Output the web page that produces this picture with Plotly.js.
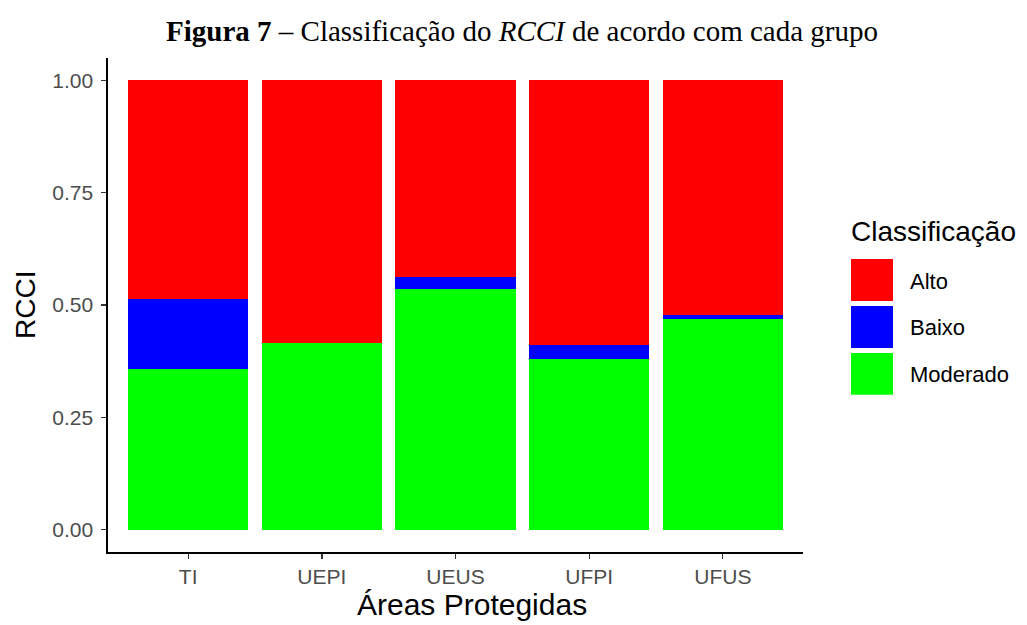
<!DOCTYPE html>
<html>
<head>
<meta charset="utf-8">
<script src="https://cdn.plot.ly/plotly-3.0.1.min.js"></script>
<style>html,body{margin:0;padding:0;background:#fff;}#chart{width:1027px;height:625px;}</style>
</head>
<body>
<div id="chart"></div>
<script>
const categories = ["TI", "UEPI", "UEUS", "UFPI", "UFUS"];
const moderado = [0.357, 0.415, 0.535, 0.379, 0.468];
const baixo = [0.156, 0.000, 0.027, 0.031, 0.009];
const alto = [0.487, 0.585, 0.438, 0.590, 0.523];
const seriesNames = ["Moderado", "Baixo", "Alto"];
const seriesColors = ["#00FF00", "#0000FF", "#FF0000"];
const yTicks = [0, 0.25, 0.5, 0.75, 1.0];
const yTickLabels = ["0.00", "0.25", "0.50", "0.75", "1.00"];
const legendOrder = ["Alto", "Baixo", "Moderado"];
const legendColors = ["#FF0000", "#0000FF", "#00FF00"];

const seriesValues = [moderado, baixo, alto];
const traces = seriesNames.map((n, i) => ({
  type: "bar", name: n, x: categories, y: seriesValues[i],
  marker: {color: seriesColors[i], line: {width: 0}},
  showlegend: false, hoverinfo: "x+y+name"
}));

const PL = 108, PR = 803, PT = 57.5, PB = 552.5;
const px = v => (v - PL) / (PR - PL);
const py = v => (PB - v) / (PB - PT);
const sans = "Liberation Sans, Arial";

const shapes = [];
const annotations = [];
// custom legend (ggplot style)
const keyTop = [259, 306, 353];
legendOrder.forEach((n, i) => {
  shapes.push({type: "rect", xref: "paper", yref: "paper",
    x0: px(851), x1: px(893), y0: py(keyTop[i] + 42), y1: py(keyTop[i]),
    fillcolor: legendColors[i], line: {width: 0}});
  annotations.push({xref: "paper", yref: "paper", x: px(908),
    y: py(keyTop[i] + 22), xanchor: "left", yanchor: "middle",
    text: n, showarrow: false, font: {family: sans, size: 22, color: "#000"}});
});
annotations.push({xref: "paper", yref: "paper", x: px(849), y: py(231),
  xanchor: "left", yanchor: "middle", text: "Classificação", showarrow: false,
  font: {family: sans, size: 28, color: "#000"}});
// axis titles
annotations.push({xref: "paper", yref: "paper", x: px(472), y: py(605),
  xanchor: "center", yanchor: "middle", text: "Áreas Protegidas", showarrow: false,
  font: {family: sans, size: 30, color: "#000"}});
annotations.push({xref: "paper", yref: "paper", x: px(25), y: py(305),
  xanchor: "center", yanchor: "middle", text: "RCCI", textangle: -90, showarrow: false,
  font: {family: sans, size: 28, color: "#000"}});

const layout = {
  width: 1027, height: 625,
  margin: {l: PL, r: 1027 - PR, t: PT, b: 625 - PB, pad: 0},
  paper_bgcolor: "#fff", plot_bgcolor: "#fff",
  barmode: "stack", bargap: 0.1,
  showlegend: false,
  title: {text: "<b>Figura 7</b> – Classificação do <i>RCCI</i> de acordo com cada grupo",
    font: {family: "Liberation Serif, Times New Roman", size: 29, color: "#000"},
    x: 522 / 1027, xanchor: "center", xref: "container", y: 1 - 31 / 625, yanchor: "middle"},
  xaxis: {
    range: [-0.6, 4.6], showline: true, linecolor: "#000", linewidth: 1.6,
    ticks: "outside", ticklen: 5, tickwidth: 1.3, tickcolor: "#333",
    tickfont: {family: sans, size: 21, color: "#4D4D4D"},
    showgrid: false, zeroline: false
  },
  yaxis: {
    range: [-0.05, 1.05], showline: true, linecolor: "#000", linewidth: 1.6,
    ticks: "outside", ticklen: 5, tickwidth: 1.3, tickcolor: "#333",
    tickvals: yTicks, ticktext: yTickLabels, ticklabelstandoff: 4,
    tickfont: {family: sans, size: 21, color: "#4D4D4D"},
    showgrid: false, zeroline: false
  },
  shapes: shapes, annotations: annotations
};

Plotly.newPlot("chart", traces, layout, {displayModeBar: false, staticPlot: true});
</script>
</body>
</html>
